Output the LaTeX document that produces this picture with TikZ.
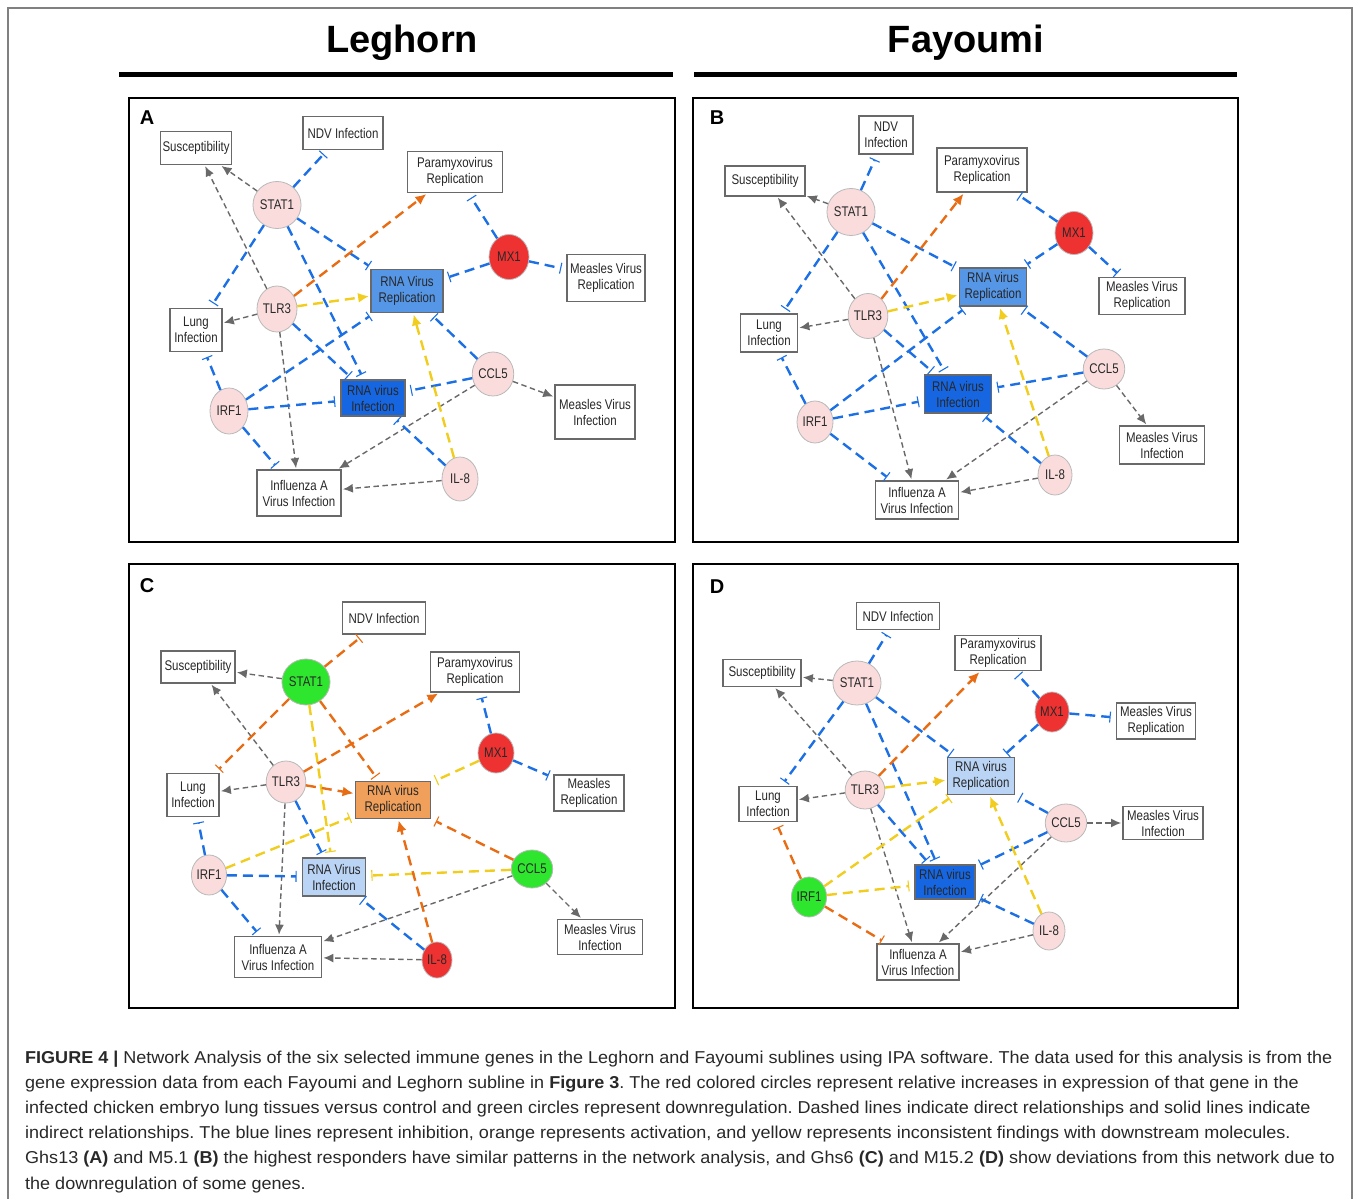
\documentclass[tikz,border=0pt]{standalone}
\usepackage{fontspec}
\setmainfont{Liberation Sans}
\setsansfont{Liberation Sans}
\newfontfamily\narrowfont[FakeStretch=0.82]{Liberation Sans}
\newfontfamily\capfont[FakeStretch=1.048]{Liberation Sans}
\usetikzlibrary{arrows.meta,shapes.geometric}
\definecolor{pinkc}{RGB}{250,220,220}
\definecolor{redc}{RGB}{238,50,50}
\definecolor{greenc}{RGB}{45,230,45}
\definecolor{bluemid}{RGB}{85,150,230}
\definecolor{bluedark}{RGB}{22,102,226}
\definecolor{bluelight}{RGB}{186,212,245}
\definecolor{orangefill}{RGB}{240,160,90}
\definecolor{linebl}{RGB}{28,112,228}
\definecolor{lineor}{RGB}{232,108,20}
\definecolor{lineye}{RGB}{240,205,30}
\definecolor{linegr}{RGB}{105,105,105}
\definecolor{boxgr}{RGB}{105,105,105}
\definecolor{txtc}{RGB}{40,40,40}
\tikzset{
  gene/.style 2 args={ellipse, draw=gray!55, line width=0.8pt, fill=pinkc,
    minimum width=#1, minimum height=#2, inner sep=0pt, text=txtc,
    font={\narrowfont\fontsize{14}{16}\selectfont}},
  fn/.style 2 args={rectangle, draw=boxgr, line width=1.8pt, fill=white,
    minimum width=#1, minimum height=#2, inner sep=1pt, align=center, text=txtc,
    font={\narrowfont\fontsize{14}{16}\selectfont}},
  grayarr/.style={draw=linegr, line width=1.4pt, dash pattern=on 5.5pt off 3.5pt,
    -{Latex[length=10pt,width=9pt]}, shorten >=1pt},
  colline/.style={line width=2.4pt, dash pattern=on 10pt off 6pt},
  bluebar/.style={colline, draw=linebl, -{Bar[width=11pt,line width=1.1pt]}, shorten >=5pt},
  orangebar/.style={colline, draw=lineor, -{Bar[width=11pt,line width=1.1pt]}, shorten >=5pt},
  yellowbar/.style={colline, draw=lineye, -{Bar[width=11pt,line width=1.1pt]}, shorten >=5pt},
  orangearr/.style={colline, draw=lineor, -{Latex[length=11pt,width=10pt]}, shorten >=1pt},
  yellowarr/.style={colline, draw=lineye, -{Latex[length=11pt,width=10pt]}, shorten >=1pt},
  paneltag/.style={font=\sffamily\bfseries\fontsize{20}{20}\selectfont},
  title/.style={font=\sffamily\bfseries\fontsize{38}{38}\selectfont},
  capline/.style={anchor=base west, inner sep=0pt, text=txtc, font=\capfont\fontsize{17.2}{20}\selectfont}
}
\begin{document}
\frenchspacing
\begin{tikzpicture}[x=1pt,y=-1pt]
\useasboundingbox (0,0) rectangle (1358,1199);
% outer frame
\draw[gray, line width=1.5pt] (8,1205) -- (8,8) -- (1352,8) -- (1352,1205);
% titles
\node[title] (tL) at (402,43) {Leghorn};
\node[title] (tF) at (966,43) {Fayoumi};
\draw[line width=5pt] (119,75) -- (673,75);
\draw[line width=5pt] (694,75) -- (1237,75);
% panel frames
\draw[line width=2.5pt] (129,98) rectangle (675,542);
\draw[line width=2.5pt] (693,98) rectangle (1238,542);
\draw[line width=2.5pt] (129,564) rectangle (675,1008);
\draw[line width=2.5pt] (693,564) rectangle (1238,1008);
\node[paneltag] (lA) at (147,118) {A};
\node[paneltag] (lB) at (717,118) {B};
\node[paneltag] (lC) at (147,586) {C};
\node[paneltag] (lD) at (717,587) {D};

% ================= Panel A =================
\node[fn={71}{33}] (aSus) at (196,148) {Susceptibility};
\node[fn={80}{33}] (aNDV) at (343,133) {NDV Infection};
\node[fn={95}{41}] (aPar) at (455,172) {Paramyxovirus\\Replication};
\node[gene={42}{47}] (aSTAT) at (277,205) {STAT1};
\node[gene={40}{45}, fill=redc] (aMX) at (509,257) {MX1};
\node[fn={78}{47}] (aMVR) at (606,278) {Measles Virus\\Replication};
\node[fn={72}{43}, fill=bluemid] (aRR) at (407,291) {RNA Virus\\Replication};
\node[fn={52}{43}] (aLung) at (196,330) {Lung\\Infection};
\node[gene={40}{46}] (aTLR) at (277,309) {TLR3};
\node[fn={64}{36}, fill=bluedark] (aRI) at (373,398) {RNA virus\\Infection};
\node[gene={38}{44}] (aCCL) at (493,374) {CCL5};
\node[fn={80}{54}] (aMVI) at (595,412) {Measles Virus\\Infection};
\node[gene={38}{46}] (aIRF) at (229,411) {IRF1};
\node[gene={36}{44}] (aIL) at (460,479) {IL-8};
\node[fn={84}{46}] (aInf) at (299,493) {Influenza A\\Virus Infection};

\draw[grayarr] (aSTAT) -- (aSus);
\draw[grayarr] (aTLR) -- (aSus);
\draw[bluebar] (aSTAT) -- (aNDV);
\draw[bluebar] (aSTAT) -- (aLung);
\draw[bluebar] (aSTAT) -- (aRR);
\draw[bluebar] (aSTAT) -- (aRI);
\draw[orangearr] (aTLR) -- (aPar);
\draw[yellowarr] (aTLR) -- (aRR);
\draw[grayarr] (aTLR) -- (aLung);
\draw[bluebar] (aTLR) -- (aRI);
\draw[grayarr] (aTLR) -- (aInf);
\draw[bluebar] (aMX) -- (aPar);
\draw[bluebar] (aMX) -- (aRR);
\draw[bluebar] (aMX) -- (aMVR);
\draw[bluebar] (aIRF) -- (aLung);
\draw[bluebar] (aIRF) -- (aRR);
\draw[bluebar] (aIRF) -- (aRI);
\draw[bluebar] (aIRF) -- (aInf);
\draw[bluebar] (aCCL) -- (aRR);
\draw[bluebar] (aCCL) -- (aRI);
\draw[grayarr] (aCCL) -- (aMVI);
\draw[grayarr] (aCCL) -- (aInf);
\draw[yellowarr] (aIL) -- (aRR);
\draw[bluebar] (aIL) -- (aRI);
\draw[grayarr] (aIL) -- (aInf);

% ================= Panel B =================
\node[fn={54}{38}] (bNDV) at (886,135) {NDV\\Infection};
\node[fn={80}{30}] (bSus) at (765,181) {Susceptibility};
\node[fn={90}{44}] (bPar) at (982,170) {Paramyxovirus\\Replication};
\node[gene={42}{47}] (bSTAT) at (851,212) {STAT1};
\node[gene={38}{43}, fill=redc] (bMX) at (1074,233) {MX1};
\node[fn={86}{37}] (bMVR) at (1142,296) {Measles Virus\\Replication};
\node[fn={67}{38}, fill=bluemid] (bRR) at (993,287) {RNA virus\\Replication};
\node[gene={38}{45}] (bTLR) at (868,316) {TLR3};
\node[fn={57}{38}] (bLung) at (769,333) {Lung\\Infection};
\node[fn={67}{38}, fill=bluedark] (bRI) at (958,394) {RNA virus\\Infection};
\node[gene={35}{40}] (bCCL) at (1104,369) {CCL5};
\node[gene={36}{42}] (bIRF) at (815,422) {IRF1};
\node[gene={34}{40}] (bIL) at (1055,475) {IL-8};
\node[fn={85}{38}] (bMVI) at (1162,445) {Measles Virus\\Infection};
\node[fn={83}{38}] (bInf) at (917,500) {Influenza A\\Virus Infection};

\draw[grayarr] (bSTAT) -- (bSus);
\draw[grayarr] (bTLR) -- (bSus);
\draw[bluebar] (bSTAT) -- (bNDV);
\draw[bluebar] (bSTAT) -- (bLung);
\draw[bluebar] (bSTAT) -- (bRR);
\draw[bluebar] (bSTAT) -- (bRI);
\draw[orangearr] (bTLR) -- (bPar);
\draw[yellowarr] (bTLR) -- (bRR);
\draw[grayarr] (bTLR) -- (bLung);
\draw[bluebar] (bTLR) -- (bRI);
\draw[grayarr] (bTLR) -- (bInf);
\draw[bluebar] (bMX) -- (bPar);
\draw[bluebar] (bMX) -- (bRR);
\draw[bluebar] (bMX) -- (bMVR);
\draw[bluebar] (bIRF) -- (bLung);
\draw[bluebar] (bIRF) -- (bRR);
\draw[bluebar] (bIRF) -- (bRI);
\draw[bluebar] (bIRF) -- (bInf);
\draw[bluebar] (bCCL) -- (bRR);
\draw[bluebar] (bCCL) -- (bRI);
\draw[grayarr] (bCCL) -- (bMVI);
\draw[grayarr] (bCCL) -- (bInf);
\draw[yellowarr] (bIL) -- (bRR);
\draw[bluebar] (bIL) -- (bRI);
\draw[grayarr] (bIL) -- (bInf);

% ================= Panel C =================
\node[fn={83}{32}] (cNDV) at (384,618) {NDV Infection};
\node[fn={74}{32}] (cSus) at (198,667) {Susceptibility};
\node[fn={89}{40}] (cPar) at (475,672) {Paramyxovirus\\Replication};
\node[gene={42}{46}, fill=greenc] (cSTAT) at (306,682) {STAT1};
\node[gene={36}{40}, fill=redc] (cMX) at (496,753) {MX1};
\node[fn={70}{36}] (cMR) at (589,793) {Measles\\Replication};
\node[gene={36}{42}] (cTLR) at (286,782) {TLR3};
\node[fn={52}{43}] (cLung) at (193,795) {Lung\\Infection};
\node[fn={75}{37}, fill=orangefill] (cRR) at (393,800) {RNA virus\\Replication};
\node[gene={34}{40}] (cIRF) at (209,875) {IRF1};
\node[fn={63}{38}, fill=bluelight] (cRI) at (334,877) {RNA Virus\\Infection};
\node[gene={34}{38}, fill=greenc] (cCCL) at (532,869) {CCL5};
\node[fn={85}{35}] (cMVI) at (600,937) {Measles Virus\\Infection};
\node[fn={87}{41}] (cInf) at (278,957) {Influenza A\\Virus Infection};
\node[gene={30}{36}, fill=redc] (cIL) at (437,960) {IL-8};

\draw[grayarr] (cSTAT) -- (cSus);
\draw[grayarr] (cTLR) -- (cSus);
\draw[orangebar] (cSTAT) -- (cNDV);
\draw[orangebar] (cSTAT) -- (cLung);
\draw[orangebar] (cSTAT) -- (cRR);
\draw[yellowbar] (cSTAT) -- (cRI);
\draw[orangearr] (cTLR) -- (cPar);
\draw[orangearr] (cTLR) -- (cRR);
\draw[grayarr] (cTLR) -- (cLung);
\draw[bluebar] (cTLR) -- (cRI);
\draw[grayarr] (cTLR) -- (cInf);
\draw[bluebar] (cMX) -- (cPar);
\draw[yellowbar] (cMX) -- (cRR);
\draw[bluebar] (cMX) -- (cMR);
\draw[bluebar] (cIRF) -- (cLung);
\draw[yellowbar] (cIRF) -- (cRR);
\draw[bluebar] (cIRF) -- (cRI);
\draw[bluebar] (cIRF) -- (cInf);
\draw[orangebar] (cCCL) -- (cRR);
\draw[yellowbar] (cCCL) -- (cRI);
\draw[grayarr] (cCCL) -- (cMVI);
\draw[grayarr] (cCCL) -- (cInf);
\draw[orangearr] (cIL) -- (cRR);
\draw[bluebar] (cIL) -- (cRI);
\draw[grayarr] (cIL) -- (cInf);

% ================= Panel D =================
\node[fn={83}{27}] (dNDV) at (898,616) {NDV Infection};
\node[fn={78}{27}] (dSus) at (762,673) {Susceptibility};
\node[fn={86}{35}] (dPar) at (998,653) {Paramyxovirus\\Replication};
\node[gene={42}{44}] (dSTAT) at (857,683) {STAT1};
\node[gene={34}{40}, fill=redc] (dMX) at (1052,712) {MX1};
\node[fn={79}{36}] (dMVR) at (1156,721) {Measles Virus\\Replication};
\node[fn={67}{37}, fill=bluelight] (dRR) at (981,776) {RNA virus\\Replication};
\node[gene={33}{38}] (dTLR) at (865,790) {TLR3};
\node[fn={58}{35}] (dLung) at (768,804) {Lung\\Infection};
\node[gene={32}{38}] (dCCL) at (1066,823) {CCL5};
\node[fn={80}{33}] (dMVI) at (1163,823) {Measles Virus\\Infection};
\node[gene={34}{40}, fill=greenc] (dIRF) at (809,897) {IRF1};
\node[fn={60}{34}, fill=bluedark] (dRI) at (945,882) {RNA virus\\Infection};
\node[gene={32}{38}] (dIL) at (1049,931) {IL-8};
\node[fn={82}{36}] (dInf) at (918,962) {Influenza A\\Virus Infection};

\draw[grayarr] (dSTAT) -- (dSus);
\draw[grayarr] (dTLR) -- (dSus);
\draw[bluebar] (dSTAT) -- (dNDV);
\draw[bluebar] (dSTAT) -- (dLung);
\draw[bluebar] (dSTAT) -- (dRR);
\draw[bluebar] (dSTAT) -- (dRI);
\draw[orangearr] (dTLR) -- (dPar);
\draw[yellowarr] (dTLR) -- (dRR);
\draw[grayarr] (dTLR) -- (dLung);
\draw[bluebar] (dTLR) -- (dRI);
\draw[grayarr] (dTLR) -- (dInf);
\draw[bluebar] (dMX) -- (dPar);
\draw[bluebar] (dMX) -- (dRR);
\draw[bluebar] (dMX) -- (dMVR);
\draw[orangebar] (dIRF) -- (dLung);
\draw[yellowbar] (dIRF) -- (dRR);
\draw[yellowbar] (dIRF) -- (dRI);
\draw[orangebar] (dIRF) -- (dInf);
\draw[bluebar] (dCCL) -- (dRR);
\draw[bluebar] (dCCL) -- (dRI);
\draw[grayarr] (dCCL) -- (dMVI);
\draw[grayarr] (dCCL) -- (dInf);
\draw[yellowarr] (dIL) -- (dRR);
\draw[bluebar] (dIL) -- (dRI);
\draw[grayarr] (dIL) -- (dInf);

% ================= Caption =================
\node[capline] (cap1) at (25,1063) {\textbf{FIGURE 4 |} Network Analysis of the six selected immune genes in the Leghorn and Fayoumi sublines using IPA software. The data used for this analysis is from the};
\node[capline] (cap2) at (25,1088.2) {gene expression data from each Fayoumi and Leghorn subline in \textbf{Figure 3}. The red colored circles represent relative increases in expression of that gene in the};
\node[capline] (cap3) at (25,1113.4) {infected chicken embryo lung tissues versus control and green circles represent downregulation. Dashed lines indicate direct relationships and solid lines indicate};
\node[capline] (cap4) at (25,1138.6) {indirect relationships. The blue lines represent inhibition, orange represents activation, and yellow represents inconsistent findings with downstream molecules.};
\node[capline] (cap5) at (25,1163.8) {Ghs13 \textbf{(A)} and M5.1 \textbf{(B)} the highest responders have similar patterns in the network analysis, and Ghs6 \textbf{(C)} and M15.2 \textbf{(D)} show deviations from this network due to};
\node[capline] (cap6) at (25,1189) {the downregulation of some genes.};
\end{tikzpicture}
\end{document}
